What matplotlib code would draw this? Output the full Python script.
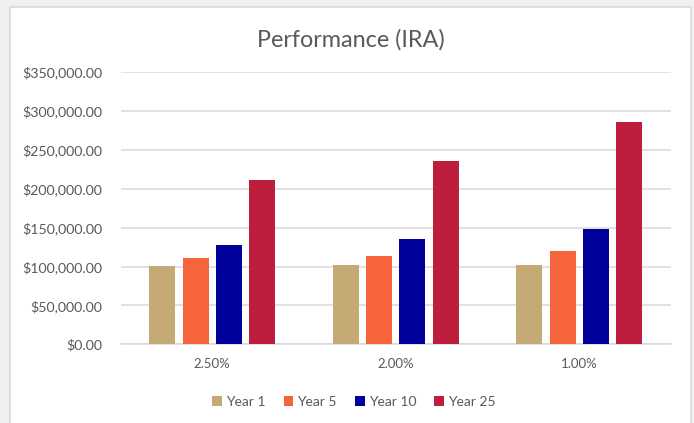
import numpy as np
import matplotlib.pyplot as plt
from matplotlib.patches import Rectangle
from matplotlib.ticker import FuncFormatter

categories = ['2.50%', '2.00%', '1.00%']
series_names = ['Year 1', 'Year 5', 'Year 10', 'Year 25']
year1 = [100300, 101500, 102300]
year5 = [111300, 113500, 120300]
year10 = [128000, 135000, 148200]
year25 = [210800, 235200, 285400]
colors = ['#C6AA76', '#F5643A', '#00009A', '#BE1E3E']

plt.rcParams['font.family'] = ['Lato', 'DejaVu Sans']

fig = plt.figure(figsize=(6.94, 4.23), dpi=100, facecolor='#F0F0F0')
fig.patches.append(Rectangle((10 / 694, -0.05), 681 / 694, 1.05 - 7 / 423,
                             transform=fig.transFigure, facecolor='white',
                             edgecolor='#D9D9D9', linewidth=1.2, zorder=-5))

ax = fig.add_axes([120.5 / 694, (423 - 344.3) / 423, 550.5 / 694, 272.3 / 423])
ax.set_zorder(2)
ax.set_facecolor('none')

x = np.arange(len(categories))
pitch = 0.1815
width = 0.1417
for i, (name, vals) in enumerate(zip(series_names, [year1, year5, year10, year25])):
    ax.bar(x + (i - 1.5) * pitch, vals, width, color=colors[i], label=name, zorder=3)

ax.set_xlim(-0.5, 2.5)
ax.set_ylim(0, 350000)
ax.set_yticks(np.arange(0, 350001, 50000))
ax.yaxis.set_major_formatter(FuncFormatter(lambda v, p: f'${v:,.2f}'))
ax.set_xticks(x)
ax.set_xticklabels(categories)
ax.grid(axis='y', color='#D9D9D9', linewidth=1.1, zorder=0)
for s in ['top', 'right', 'left']:
    ax.spines[s].set_visible(False)
ax.spines['bottom'].set_color('#D9D9D9')
ax.spines['bottom'].set_linewidth(1.1)
ax.tick_params(axis='both', length=0, labelcolor='#595959')
ax.tick_params(axis='y', pad=13, labelsize=10.2)
ax.tick_params(axis='x', pad=10, labelsize=9.5)

fig.text(351 / 694, 1 - 40 / 423, 'Performance (IRA)', ha='center', va='center',
         fontsize=16.8, color='#595959')

fig.legend(loc='center', bbox_to_anchor=(354 / 694, 1 - 402 / 423), ncol=4,
           frameon=False, fontsize=10, handlelength=0.7, handleheight=0.7,
           handletextpad=0.3, columnspacing=1.3, labelcolor='#595959')

fig.savefig('out.png', dpi=100, facecolor=fig.get_facecolor())
